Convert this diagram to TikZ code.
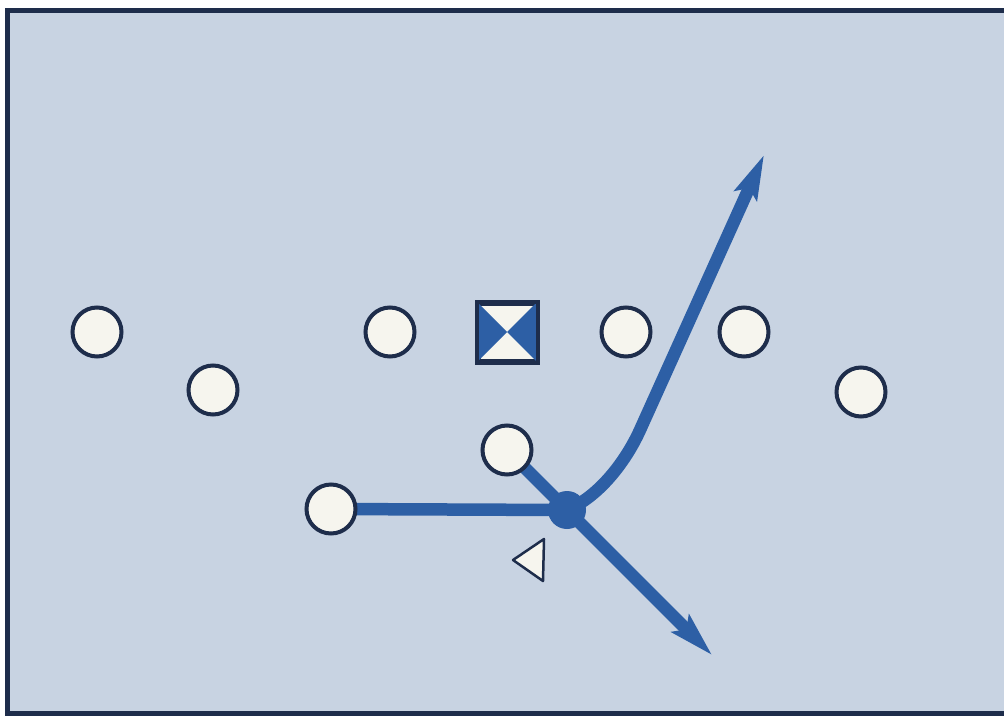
\documentclass[tikz,border=0pt]{standalone}
\usetikzlibrary{arrows.meta}
\definecolor{bg}{RGB}{200,211,226}
\definecolor{navy}{RGB}{30,45,75}
\definecolor{play}{RGB}{45,95,165}
\definecolor{chip}{RGB}{246,245,238}
\pgfdeclarelayer{back}
\pgfdeclarelayer{routes}
\pgfsetlayers{back,routes,main}
\begin{document}
\begin{tikzpicture}[x=1pt,y=-1pt,
  player/.style={circle,draw=navy,fill=chip,line width=4pt,minimum size=49pt,inner sep=0pt},
  centre/.style={rectangle,draw=navy,fill=chip,line width=4pt,minimum size=57pt,inner sep=0pt},
  hub/.style={circle,fill=play,minimum size=38pt,inner sep=0pt},
  route/.style={draw=play,line width=12.5pt},
  tip/.style={-{Stealth[length=44pt,width=24pt,inset=8pt]}},
  defender/.style={draw=navy,fill=chip,line width=2.5pt,line join=round}]
\useasboundingbox (0,0) rectangle (1004,718);
\begin{pgfonlayer}{back}
  \begin{scope}
    \clip (0,0) rectangle (1004,718);
    \fill[white] (0,0) rectangle (1004,718);
    \draw[fill=bg,draw=navy,line width=5pt] (7,10) rectangle (1040,713);
  \end{scope}
\end{pgfonlayer}
% players
\node[player] (le) at (97,332) {};
\node[player] (lw) at (213,390) {};
\node[player] (lg) at (390,332) {};
\node[centre] (c) at (507,332) {};
\fill[play] (c.north west) -- (c.center) -- (c.south west) -- cycle;
\fill[play] (c.north east) -- (c.center) -- (c.south east) -- cycle;
\draw[navy,line width=4pt] (c.north west) rectangle (c.south east);
\node[player] (rg) at (626,332) {};
\node[player] (rt) at (744,332) {};
\node[player] (rw) at (861,392) {};
\node[player] (qb) at (507,450) {};
\node[player] (rb) at (331,509) {};
\node[hub] (j) at (567,510) {};
% defender triangle
\coordinate (d1) at (513,560);
\coordinate (d2) at (544,539);
\coordinate (d3) at (543,581);
\draw[defender] (d1) -- (d2) -- (d3) -- cycle;
% route ends
\coordinate (t1) at (764,155);
\coordinate (t2) at (712,655);
\begin{pgfonlayer}{routes}
  \draw[route] (rb.center) -- (j.center);
  \draw[route,tip] (qb.center) -- (t2);
  \draw[route,tip] (j.center) .. controls (598,497) and (625,463) .. (640,430) -- (t1);
\end{pgfonlayer}
\end{tikzpicture}
\end{document}
